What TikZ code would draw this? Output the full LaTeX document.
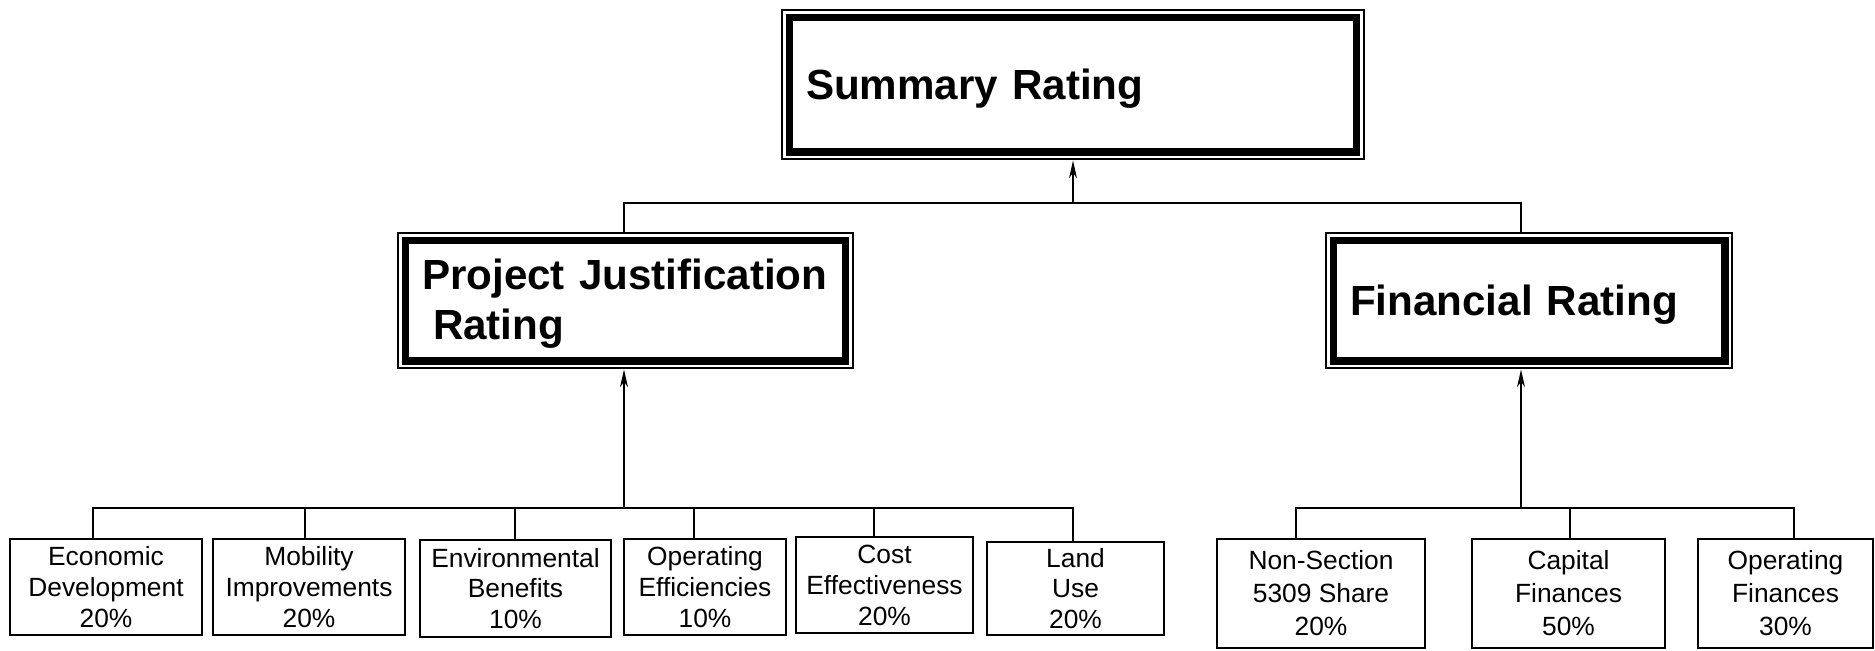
\documentclass[tikz,border=0pt]{standalone}
\usepackage{fontspec}
\setmainfont{Liberation Sans}
\usetikzlibrary{arrows.meta}
\begin{document}
\begin{tikzpicture}[x=0.02cm,y=-0.02cm,
  title/.style={rectangle, draw=black, fill=white, line width=4pt, outer sep=4.8pt,
    preaction={draw=black, line width=9.6pt},
    preaction={draw=white, line width=7.4pt},
    font=\bfseries\fontsize{24}{28.5}\selectfont, align=left,
    inner xsep=0.34cm, inner ysep=0pt},
  sbox/.style={rectangle, draw=black, line width=1pt, align=center, inner sep=0pt,
    font=\fontsize{15}{17.6}\selectfont},
  rbox/.style={sbox, font=\fontsize{15}{18.8}\selectfont},
  conn/.style={draw=black, line width=1.3pt},
  arr/.style={-{Stealth[length=10pt,width=4.4pt,inset=3pt]}}]
\fill[white] (0,0) rectangle (1875,650);
\useasboundingbox (0,0) rectangle (1875,650);

% title boxes
\node[title, text depth=0pt, minimum width=11.36cm, minimum height=2.7cm, text width=10.68cm] (sum) at (1073,84.5) {Summary Rating};
\node[title, minimum width=8.82cm, minimum height=2.42cm, text width=8.14cm] (pjr) at (625.5,300.5) {\raisebox{0pt}[\dimexpr\height+4pt\relax][\depth]{\begin{tabular}{@{}l@{}}Project Justification\\\hspace*{0.22cm}Rating\end{tabular}}};
\node[title, text depth=0pt, minimum width=7.84cm, minimum height=2.42cm, text width=7.16cm] (fr) at (1529,300.5) {Financial Rating};

% left criteria
\node[sbox, minimum width=3.84cm, minimum height=1.92cm] (econ) at (106,587) {Economic\\Development\\20\%};
\node[sbox, minimum width=3.84cm, minimum height=1.92cm] (mob) at (309,587) {Mobility\\Improvements\\20\%};
\node[sbox, minimum width=3.82cm, minimum height=1.94cm] (env) at (515.5,588.5) {Environmental\\Benefits\\10\%};
\node[sbox, minimum width=3.24cm, minimum height=1.92cm] (opeff) at (705,587) {Operating\\Efficiencies\\10\%};
\node[sbox, minimum width=3.54cm, minimum height=1.92cm] (cost) at (884.5,585) {Cost\\Effectiveness\\20\%};
\node[sbox, minimum width=3.54cm, minimum height=1.86cm] (land) at (1075.5,588.5) {Land\\Use\\20\%};

% right criteria
\node[rbox, minimum width=4.16cm, minimum height=2.18cm] (nons) at (1321,593.5) {Non-Section\\5309 Share\\20\%};
\node[rbox, minimum width=3.86cm, minimum height=2.18cm] (capf) at (1568.5,593.5) {Capital\\Finances\\50\%};
\node[rbox, minimum width=3.50cm, minimum height=2.18cm] (opfin) at (1785.5,593.5) {Operating\\Finances\\30\%};

% top bus
\coordinate (tl) at (624,203);
\coordinate (tr) at (1521,203);
\coordinate (tm) at (1073,203);
\draw[conn] (tl |- pjr.north) -- (tl) -- (tr) -- (tr |- fr.north);
\draw[conn, arr] (tm) -- (sum.south);

% left bus
\coordinate (l1) at (93,508);
\coordinate (l2) at (305,508);
\coordinate (l3) at (515,508);
\coordinate (l4) at (694,508);
\coordinate (l5) at (874,508);
\coordinate (l6) at (1073,508);
\coordinate (la) at (624,508);
\draw[conn] (l1 |- econ.north) -- (l1) -- (l6) -- (l6 |- land.north);
\draw[conn] (l2) -- (l2 |- mob.north);
\draw[conn] (l3) -- (l3 |- env.north);
\draw[conn] (l4) -- (l4 |- opeff.north);
\draw[conn] (l5) -- (l5 |- cost.north);
\draw[conn, arr] (la) -- (la |- pjr.south);

% right bus
\coordinate (r1) at (1296,508);
\coordinate (r2) at (1570,508);
\coordinate (r3) at (1794,508);
\coordinate (ra) at (1521,508);
\draw[conn] (r1 |- nons.north) -- (r1) -- (r3) -- (r3 |- opfin.north);
\draw[conn] (r2) -- (r2 |- capf.north);
\draw[conn, arr] (ra) -- (ra |- fr.south);
\end{tikzpicture}
\end{document}
